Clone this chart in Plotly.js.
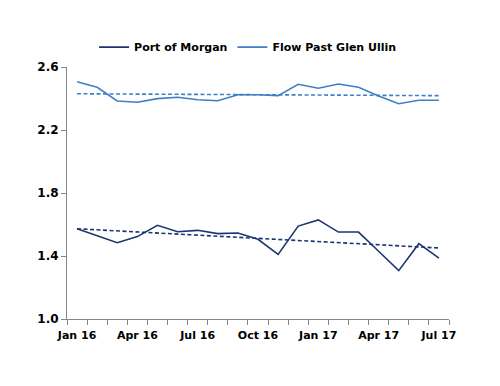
<!DOCTYPE html>
<html>
<head>
<meta charset="utf-8">
<script src="https://cdn.plot.ly/plotly-3.0.1.min.js"></script>
<style>html,body{margin:0;padding:0;background:#fff;}#chart{width:500px;height:386px;}</style>
</head>
<body>
<div id="chart"></div>
<script>
const months = ["Jan 16","Feb 16","Mar 16","Apr 16","May 16","Jun 16","Jul 16","Aug 16","Sep 16","Oct 16","Nov 16","Dec 16","Jan 17","Feb 17","Mar 17","Apr 17","May 17","Jun 17","Jul 17"];
const tickLabels = ["Jan 16","Apr 16","Jul 16","Oct 16","Jan 17","Apr 17","Jul 17"];
const portOfMorgan = [1.573,1.53,1.484,1.523,1.595,1.554,1.563,1.542,1.546,1.506,1.41,1.59,1.629,1.552,1.552,1.43,1.307,1.478,1.387];
const glenUllin = [2.507,2.471,2.384,2.376,2.399,2.408,2.392,2.386,2.424,2.424,2.418,2.49,2.465,2.492,2.471,2.416,2.367,2.389,2.389];
const portTrend = [1.573,1.451];
const glenTrend = [2.430,2.418];
const yTicks = [1.0,1.4,1.8,2.2,2.6];

const idx = months.map((m,i)=>i);
const last = months.length-1;
const dark = "#1C3472";
const light = "#3E7FC6";
const fontFam = "DejaVu Sans, sans-serif";

const traces = [
  {x: idx, y: portOfMorgan, name: "Port of Morgan", mode: "lines", line: {color: dark, width: 1.6}},
  {x: idx, y: glenUllin, name: "Flow Past Glen Ullin", mode: "lines", line: {color: light, width: 1.6}},
  {x: [0,last], y: portTrend, mode: "lines", showlegend: false, line: {color: dark, width: 1.6, dash: "4px,2.5px"}},
  {x: [0,last], y: glenTrend, mode: "lines", showlegend: false, line: {color: light, width: 1.6, dash: "4px,2.5px"}},
  {x: [0], y: [null], xaxis: "x2", showlegend: false, mode: "lines"}
];

const boundaries = months.map((m,i)=>i-0.5).concat([last+0.5]);
const labelPos = tickLabels.map(t=>months.indexOf(t));

const layout = {
  width: 500, height: 386,
  margin: {l: 67, r: 51, t: 67, b: 67},
  paper_bgcolor: "#fff", plot_bgcolor: "#fff",
  font: {family: fontFam, size: 11, color: "#000", weight: "bold"},
  showlegend: true,
  legend: {orientation: "h", x: 0.474, xanchor: "center", y: 1.079, yanchor: "middle",
           font: {family: fontFam, size: 11, weight: "bold"}, itemwidth: 30, tracegroupgap: 0},
  xaxis: {range: [-0.5, last+0.5], tickmode: "array", tickvals: boundaries, showticklabels: false,
          ticks: "outside", ticklen: 5, tickcolor: "#868686", showline: true, linecolor: "#868686",
          linewidth: 1, showgrid: false, zeroline: false, fixedrange: true},
  xaxis2: {overlaying: "x", anchor: "y", side: "bottom", range: [-0.5, last+0.5], tickmode: "array",
           tickvals: labelPos, ticktext: tickLabels, ticks: "", showline: false, showgrid: false,
           zeroline: false, tickfont: {family: fontFam, size: 11, weight: "bold"}, ticklabelstandoff: 8},
  yaxis: {range: [1.0, 2.6], tickmode: "array", tickvals: yTicks, ticktext: yTicks.map(v=>v.toFixed(1)),
          ticks: "outside", ticklen: 5, tickcolor: "#868686", showline: true, linecolor: "#868686",
          linewidth: 1, showgrid: false, zeroline: false, tickfont: {family: fontFam, size: 12, weight: "bold"}}
};

Plotly.newPlot("chart", traces, layout, {displayModeBar: false, staticPlot: true});
</script>
</body>
</html>
